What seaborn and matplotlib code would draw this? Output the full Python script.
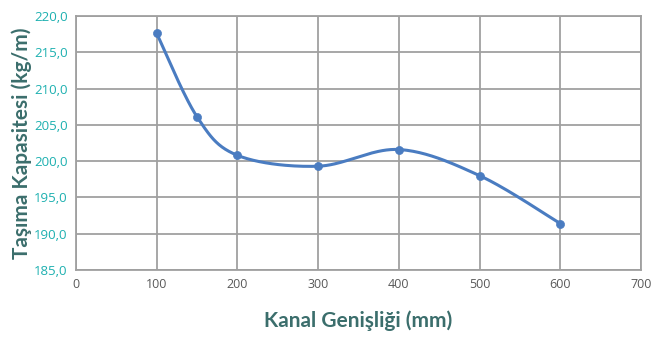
import numpy as np
import pandas as pd
import matplotlib
matplotlib.use('Agg')
import matplotlib.pyplot as plt
import seaborn as sns
from matplotlib.ticker import MultipleLocator

# values
kanal_genislik = [100, 150, 200, 300, 400, 500, 600]
tasima_kapasite = [217.6, 206.1, 200.8, 199.3, 201.6, 198.0, 191.4]
x_ticks = [0, 100, 200, 300, 400, 500, 600, 700]
y_ticks = [185.0, 190.0, 195.0, 200.0, 205.0, 210.0, 215.0, 220.0]
y_tick_labels = ['185,0', '190,0', '195,0', '200,0', '205,0', '210,0', '215,0', '220,0']

LINE = '#4A7CC1'
GRID = '#A0A0A0'
TEAL = '#1DB0B0'
LABEL = '#3B6E6C'


def excel_smooth(xs, ys, n=40):
    # Excel style smoothed line: cubic bezier with control points at 1/6 of neighbour chord
    p = np.column_stack([xs, ys]).astype(float)
    out = []
    for i in range(len(p) - 1):
        p0 = p[i - 1] if i > 0 else p[i]
        p1, p2 = p[i], p[i + 1]
        p3 = p[i + 2] if i + 2 < len(p) else p[i + 1]
        c1 = p1 + (p2 - p0) / 6
        c2 = p2 - (p3 - p1) / 6
        t = np.linspace(0, 1, n)[:, None]
        seg = ((1 - t) ** 3) * p1 + 3 * ((1 - t) ** 2) * t * c1 + 3 * (1 - t) * t ** 2 * c2 + t ** 3 * p2
        out.append(seg if i == 0 else seg[1:])
    return np.vstack(out)


sns.set_style('white')
plt.rcParams['font.family'] = ['Open Sans', 'DejaVu Sans']

df = pd.DataFrame({'x': kanal_genislik, 'y': tasima_kapasite})
curve = excel_smooth(df['x'], df['y'])
curve_df = pd.DataFrame({'x': curve[:, 0], 'y': curve[:, 1]})

fig = plt.figure(figsize=(6.51, 3.38), dpi=100)
ax = fig.add_axes([0.1167, 0.2012, 0.868, 0.7515])

sns.lineplot(data=curve_df, x='x', y='y', ax=ax, color=LINE, linewidth=2.2, sort=False)
sns.scatterplot(data=df, x='x', y='y', ax=ax, color=LINE, s=34, edgecolor=LINE, zorder=5)

ax.set_xlim(0, 700)
ax.set_ylim(185, 220)
ax.set_xticks(x_ticks)
ax.set_yticks(y_ticks)
ax.set_yticklabels(y_tick_labels)
ax.xaxis.set_minor_locator(MultipleLocator(20))
ax.yaxis.set_minor_locator(MultipleLocator(1))

ax.grid(True, which='major', color=GRID, linewidth=1.3)
for s in ax.spines.values():
    s.set_color(GRID)
    s.set_linewidth(1.3)

ax.tick_params(axis='both', which='major', direction='out', length=4, width=1.3, color=GRID)
ax.tick_params(axis='both', which='minor', direction='out', length=3, width=1.5, color=GRID)
ax.tick_params(axis='y', which='major', labelsize=9.5, labelcolor=TEAL, pad=2)
ax.tick_params(axis='x', which='major', labelsize=9, labelcolor='#595959', pad=2)

ax.set_xlabel('Kanal Genişliği (mm)', fontsize=15, fontweight='bold', color=LABEL,
              family=['Lato', 'DejaVu Sans'], labelpad=14)
ax.set_ylabel('Taşıma Kapasitesi (kg/m)', fontsize=15, fontweight='bold', color=LABEL,
              family=['Lato', 'DejaVu Sans'], labelpad=1.5)

plt.savefig('out.png', dpi=100)
plt.close()
